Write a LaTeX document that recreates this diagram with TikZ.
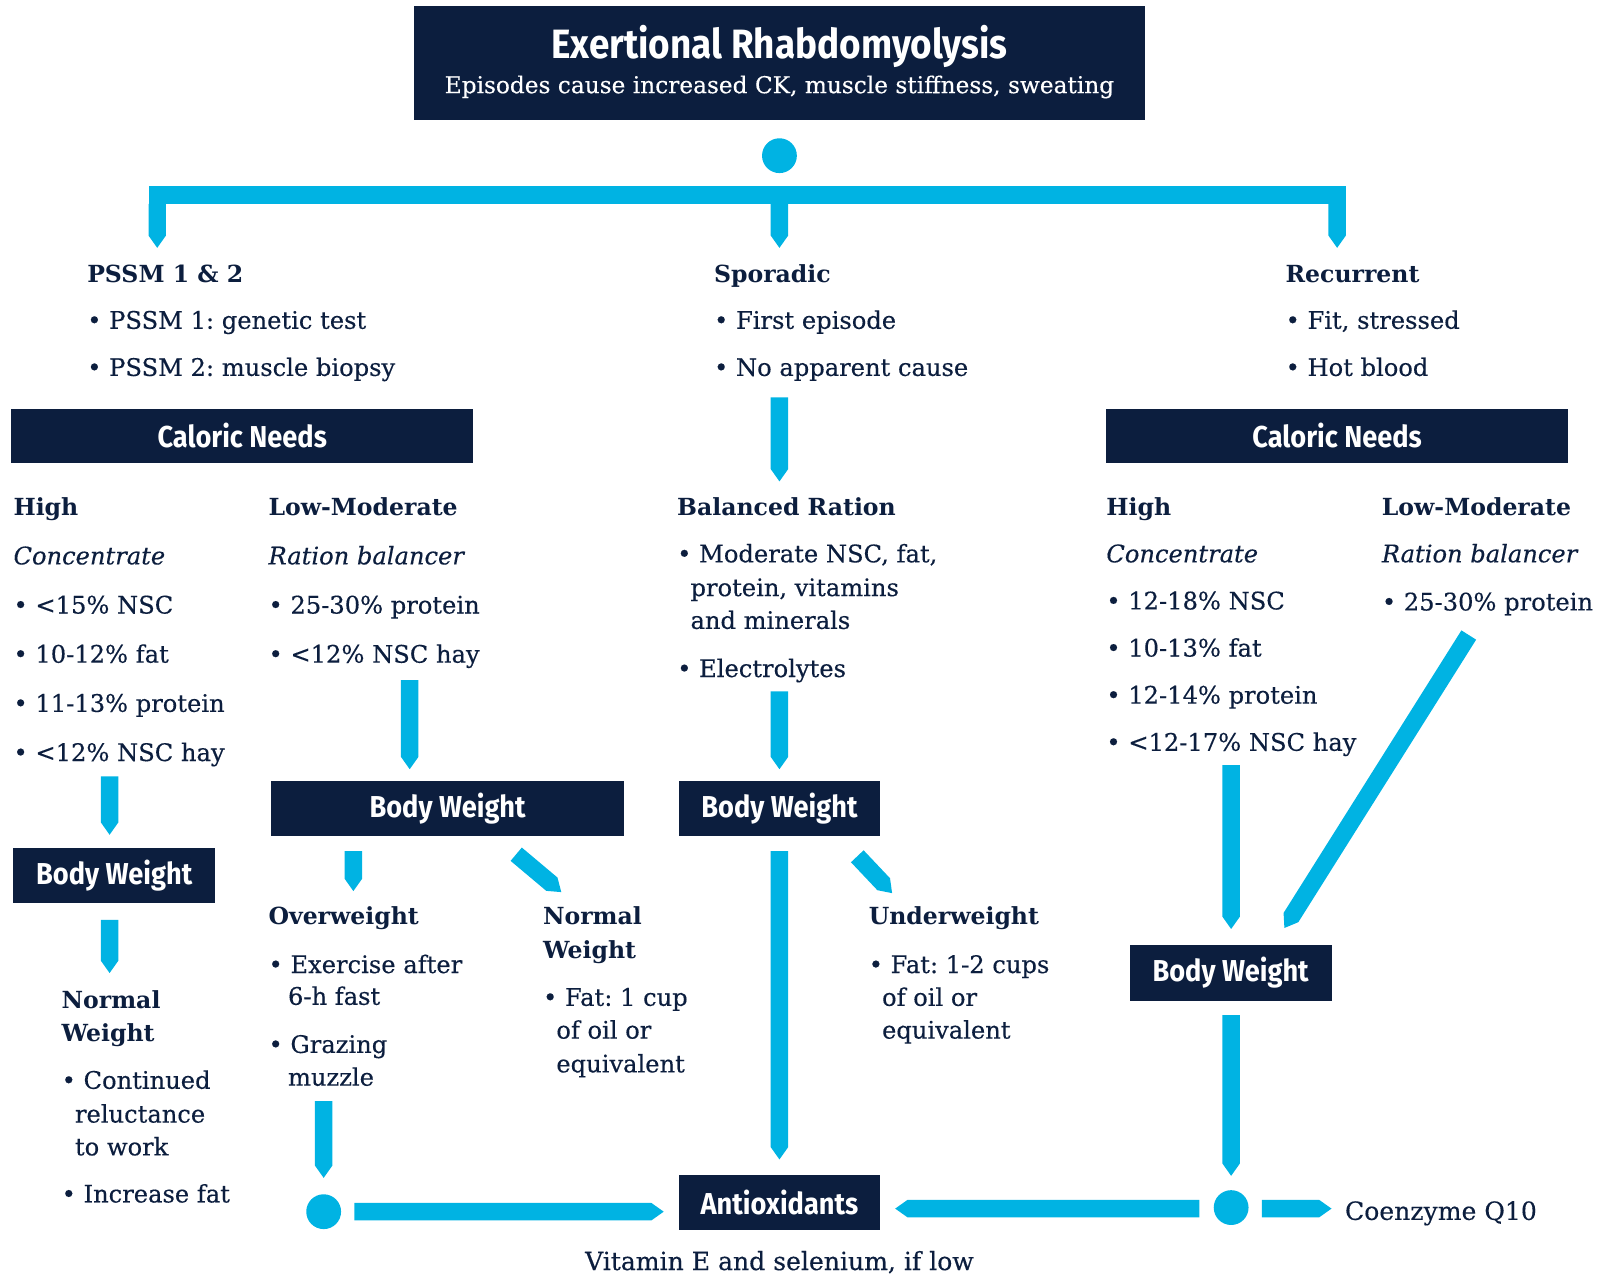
\documentclass[tikz,border=0pt]{standalone}
\usepackage{fontspec}
\setmainfont{DejaVu Serif}[UprightFeatures={FakeBold=0.35},ItalicFeatures={FakeBold=0.35}]
\newfontfamily\boxfont{Fira Sans}[FakeStretch=0.9]
\usetikzlibrary{calc}
\definecolor{navy}{HTML}{0C1E3E}
\definecolor{acol}{HTML}{00B3E3}
\frenchspacing
\newcommand{\fatarrow}[4][8.5]{%
  \coordinate (#2-s) at (#3);
  \coordinate (#2-e) at (#4);
  \coordinate (#2-t) at ($(#2-e)!12pt!(#2-s)$);
  \fill[acol] ($(#2-s)!#1pt!90:(#2-e)$) -- ($(#2-t)!#1pt!-90:(#2-s)$) -- (#2-e)
     -- ($(#2-t)!#1pt!90:(#2-s)$) -- ($(#2-s)!#1pt!-90:(#2-e)$) -- cycle;}
\tikzset{
  tx/.style={anchor=base west, inner sep=0, text=navy, font=\fontsize{23.6}{28}\selectfont},
  hd/.style={tx, font=\bfseries\fontsize{23}{28}\selectfont},
  itx/.style={tx, font=\itshape\fontsize{23.6}{28}\selectfont},
  darkbox/.style={fill=navy, text=white, inner sep=0, font=\boxfont\bfseries\fontsize{29.5}{32}\selectfont},
  dot/.style={circle, fill=acol, inner sep=0, minimum size=34pt}
}
\begin{document}
\begin{tikzpicture}[x=1pt,y=-1pt]
\useasboundingbox (0,0) rectangle (1568,1246);
% title
\node[darkbox, minimum width=714pt, minimum height=111pt] (title) at (761,61.5) {};
\node[anchor=base, inner sep=0, text=white, font=\boxfont\bfseries\fontsize{40}{44}\selectfont] (ttl) at (761,57) {Exertional Rhabdomyolysis};
\node[anchor=base, inner sep=0, text=white, font=\fontsize{22.7}{26}\selectfont] (sub) at (761,91) {Episodes cause increased CK, muscle stiffness, sweating};
\node[dot] (c1) at (761,152) {};
\fill[acol] (145,182) rectangle (1314,199);
\coordinate (barL) at (153.5,199);
\coordinate (barM) at (761,199);
\coordinate (barR) at (1305.5,199);
\fatarrow{a1}{barL}{153.5,242}
\fatarrow{a2}{barM}{761,242}
\fatarrow{a3}{barR}{1305.5,242}
% top headings
\node[hd] (pssm) at (85,276) {PSSM 1 \& 2};
\node[tx] (p1) at (85,321) {• PSSM 1: genetic test};
\node[tx] (p2) at (85,367) {• PSSM 2: muscle biopsy};
\node[hd] (spor) at (697,276) {Sporadic};
\node[tx] (s1) at (697,321) {• First episode};
\node[tx] (s2) at (697,367) {• No apparent cause};
\node[hd] (rec) at (1255,276) {Recurrent};
\node[tx] (r1) at (1255,321) {• Fit, stressed};
\node[tx] (r2) at (1255,367) {• Hot blood};
% caloric needs
\node[darkbox, minimum width=451pt, minimum height=53pt] (cal1) at (236.5,425.5) {Caloric Needs};
\node[darkbox, minimum width=451pt, minimum height=53pt] (cal2) at (1305.5,425.5) {Caloric Needs};
% left column
\node[hd] (lh) at (13,503) {High};
\node[itx] (lhc) at (13,551) {Concentrate};
\node[tx] (lh1) at (13,599) {• <15\% NSC};
\node[tx] (lh2) at (13,647) {• 10-12\% fat};
\node[tx] (lh3) at (13,695) {• 11-13\% protein};
\node[tx] (lh4) at (13,743) {• <12\% NSC hay};
\node[hd] (ll) at (262,503) {Low-Moderate};
\node[itx] (llr) at (262,551) {Ration balancer};
\node[tx] (ll1) at (262,599) {• 25-30\% protein};
\node[tx] (ll2) at (262,647) {• <12\% NSC hay};
\fatarrow{a5}{400,664}{400,751}
\fatarrow{a6}{107,758}{107,815}
\node[darkbox, minimum width=197pt, minimum height=54pt] (bw1) at (111.5,855) {Body Weight};
\fatarrow{a7}{107,898}{107,950}
\node[hd] (nw1) at (60,985) {Normal};
\node[hd] (nw1b) at (60,1017) {Weight};
\node[tx] (nw11) at (60,1063) {• Continued};
\node[tx] (nw12) at (73,1096) {reluctance};
\node[tx] (nw13) at (73,1128) {to work};
\node[tx] (nw14) at (60,1174) {• Increase fat};
\node[darkbox, minimum width=344pt, minimum height=53pt] (bw2) at (437,789.5) {Body Weight};
\fatarrow{a8}{345,831}{345,870}
\fatarrow{a9}{504,834}{548,871}
\node[hd] (ow) at (262,903) {Overweight};
\node[tx] (ow1) at (262,950) {• Exercise after};
\node[tx] (ow2) at (281,981) {6-h fast};
\node[tx] (ow3) at (262,1028) {• Grazing};
\node[tx] (ow4) at (281,1060) {muzzle};
\node[hd] (nw2) at (530,903) {Normal};
\node[hd] (nw2b) at (530,936) {Weight};
\node[tx] (nw21) at (530,982) {• Fat: 1 cup};
\node[tx] (nw22) at (543,1014) {of oil or};
\node[tx] (nw23) at (543,1047) {equivalent};
\fatarrow{a12}{316,1075}{316,1150}
\node[dot] (c2) at (316,1183) {};
\fatarrow{a13}{346,1183}{648,1183}
\node[darkbox, minimum width=196pt, minimum height=54pt] (anti) at (761,1174) {Antioxidants};
\node[anchor=base, inner sep=0, text=navy, font=\fontsize{24.5}{28}\selectfont] (vit) at (761,1240) {Vitamin E and selenium, if low};
% middle column
\fatarrow{a4}{761,388}{761,470}
\node[hd] (bal) at (661,503) {Balanced Ration};
\node[tx] (b1) at (661,549) {• Moderate NSC, fat,};
\node[tx] (b2) at (674,582) {protein, vitamins};
\node[tx] (b3) at (674,614) {and minerals};
\node[tx] (b4) at (661,661) {• Electrolytes};
\fatarrow{a10}{761,675}{761,751}
\node[darkbox, minimum width=196pt, minimum height=53pt] (bw3) at (761,789.5) {Body Weight};
\fatarrow{a11}{761,831}{761,1132}
\fatarrow{a11b}{837,836}{871,872}
\node[hd] (uw) at (848,903) {Underweight};
\node[tx] (uw1) at (848,950) {• Fat: 1-2 cups};
\node[tx] (uw2) at (861,982) {of oil or};
\node[tx] (uw3) at (861,1014) {equivalent};
% right column
\node[hd] (rh) at (1080,503) {High};
\node[itx] (rhc) at (1080,549) {Concentrate};
\node[tx] (rh1) at (1080,595) {• 12-18\% NSC};
\node[tx] (rh2) at (1080,641) {• 10-13\% fat};
\node[tx] (rh3) at (1080,687) {• 12-14\% protein};
\node[tx] (rh4) at (1080,733) {• <12-17\% NSC hay};
\node[hd] (rl) at (1349,503) {Low-Moderate};
\node[itx] (rlr) at (1349,549) {Ration balancer};
\node[tx] (rl1) at (1349,596) {• 25-30\% protein};
\fatarrow{a14}{1202,747}{1202,907}
\fatarrow{a15}{1434,620}{1254,906}
\node[darkbox, minimum width=197pt, minimum height=54pt] (bw4) at (1201.5,950) {Body Weight};
\fatarrow{a16}{1202,991}{1202,1148}
\node[dot] (c3) at (1202,1179) {};
\fatarrow{a17}{1171,1180}{874,1180}
\fatarrow{a18}{1232,1180}{1300,1180}
\node[tx, font=\fontsize{24.5}{28}\selectfont] (coq) at (1313,1191) {Coenzyme Q10};
\end{tikzpicture}
\end{document}
